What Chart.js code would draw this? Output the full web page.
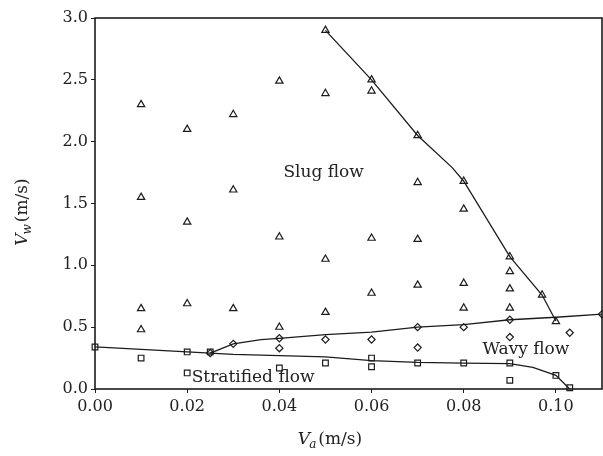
<!DOCTYPE html>
<html>
<head>
<meta charset="utf-8">
<title>Flow pattern map</title>
<script src="https://cdn.jsdelivr.net/npm/chart.js@4/dist/chart.umd.min.js"></script>
<style>
  html, body { margin: 0; padding: 0; background: #fff; }
</style>
</head>
<body>
<canvas id="flowMap" width="603" height="456"></canvas>
<script>
// superficial air velocity Va (m/s) and water velocity Vw (m/s) of each run

// slug flow runs (triangles)
var slugVa = [0.01, 0.01, 0.01, 0.01,
              0.02, 0.02, 0.02,
              0.03, 0.03, 0.03,
              0.04, 0.04, 0.04,
              0.05, 0.05, 0.05, 0.05,
              0.06, 0.06, 0.06, 0.06,
              0.07, 0.07, 0.07, 0.07,
              0.08, 0.08, 0.08, 0.08,
              0.09, 0.09, 0.09, 0.09,
              0.097, 0.10];
var slugVw = [2.30, 1.55, 0.65, 0.48,
              2.10, 1.35, 0.69,
              2.22, 1.61, 0.65,
              2.49, 1.23, 0.50,
              2.90, 2.39, 1.05, 0.62,
              2.50, 2.41, 1.22, 0.775,
              2.05, 1.67, 1.21, 0.84,
              1.68, 1.455, 0.855, 0.655,
              1.07, 0.95, 0.81, 0.655,
              0.76, 0.545];

// wavy flow runs (diamonds)
var wavyVa = [0.025, 0.03, 0.04, 0.04, 0.05, 0.06, 0.07, 0.07, 0.08, 0.09, 0.09, 0.103, 0.11];
var wavyVw = [0.29, 0.365, 0.41, 0.33, 0.40, 0.40, 0.50, 0.335, 0.50, 0.56, 0.42, 0.455, 0.605];

// stratified flow runs (squares)
var stratVa = [0.00, 0.01, 0.02, 0.02, 0.025, 0.04, 0.05, 0.06, 0.06, 0.07, 0.08, 0.09, 0.09, 0.10, 0.103];
var stratVw = [0.34, 0.25, 0.30, 0.13, 0.30, 0.17, 0.21, 0.25, 0.18, 0.21, 0.21, 0.21, 0.07, 0.11, 0.01];

// transition boundaries
var slugLimitVa = [0.05, 0.06, 0.07, 0.0775, 0.08, 0.09, 0.097, 0.10];
var slugLimitVw = [2.90, 2.50, 2.05, 1.79, 1.68, 1.07, 0.76, 0.55];

var slugWavyVa = [0.025, 0.03, 0.036, 0.04, 0.05, 0.06, 0.07, 0.08, 0.09, 0.10, 0.11];
var slugWavyVw = [0.29, 0.365, 0.40, 0.41, 0.44, 0.46, 0.50, 0.52, 0.56, 0.58, 0.605];

var wavyStratVa = [0.00, 0.01, 0.02, 0.025, 0.03, 0.04, 0.05, 0.06, 0.07, 0.08, 0.09, 0.095, 0.10, 0.103];
var wavyStratVw = [0.34, 0.32, 0.30, 0.29, 0.28, 0.27, 0.26, 0.23, 0.215, 0.21, 0.205, 0.175, 0.11, 0.0];

// axis ticks
var vaTicks = [0.00, 0.02, 0.04, 0.06, 0.08, 0.10];
var vwTicks = [0.0, 0.5, 1.0, 1.5, 2.0, 2.5, 3.0];

// regime names, placed in data units
var regimeNames = ['Slug flow', 'Wavy flow', 'Stratified flow'];
var regimeVa = [0.0496, 0.0935, 0.0343];
var regimeVw = [1.75, 0.316, 0.09];

var ink = '#1c1c1c';
var serif = '"DejaVu Serif", "Liberation Serif", serif';

function toPoints(xs, ys) {
    return xs.map(function (x, i) { return {x: x, y: ys[i]}; });
}

function boundary(xs, ys) {
    return {
        data: toPoints(xs, ys),
        showLine: true,
        borderColor: ink,
        borderWidth: 1.3,
        pointRadius: 0,
        tension: 0
    };
}

function markers(xs, ys, style, r) {
    return {
        data: toPoints(xs, ys),
        pointStyle: style,
        pointRadius: r,
        pointBorderWidth: 1.2,
        pointBorderColor: ink,
        pointBackgroundColor: 'rgba(255,255,255,0)',
        clip: false
    };
}

// frame, regime names and axis titles with subscripts
var decorations = {
    id: 'decorations',
    afterDraw: function (chart) {
        var ctx = chart.ctx, a = chart.chartArea;
        var xs = chart.scales.x, ys = chart.scales.y;
        ctx.save();
        ctx.strokeStyle = ink;
        ctx.lineWidth = 1.6;
        ctx.strokeRect(a.left, a.top, a.right - a.left, a.bottom - a.top);

        ctx.fillStyle = '#222';
        ctx.font = '17px ' + serif;
        ctx.textAlign = 'center';
        ctx.textBaseline = 'middle';
        regimeNames.forEach(function (name, i) {
            ctx.fillText(name, xs.getPixelForValue(regimeVa[i]), ys.getPixelForValue(regimeVw[i]));
        });

        drawTitle(ctx, 'a', 330, 438, 0);
        drawTitle(ctx, 'w', 21, 212, -Math.PI / 2);
        ctx.restore();
    }
};

function drawTitle(ctx, sub, cx, cy, angle) {
    var big = '17px ' + serif, ital = 'italic 17px ' + serif, small = 'italic 12px ' + serif;
    ctx.save();
    ctx.translate(cx, cy);
    ctx.rotate(angle);
    ctx.textAlign = 'left';
    ctx.textBaseline = 'alphabetic';
    ctx.font = ital;  var wV = ctx.measureText('V').width;
    ctx.font = small; var wS = ctx.measureText(sub).width;
    ctx.font = big;   var wU = ctx.measureText('(m/s)').width;
    var x = -(wV + wS + 1 + wU) / 2, base = 6;
    ctx.font = ital;  ctx.fillText('V', x, base);
    ctx.font = small; ctx.fillText(sub, x + wV - 1, base + 4);
    ctx.font = big;   ctx.fillText('(m/s)', x + wV + wS + 1, base);
    ctx.restore();
}

new Chart(document.getElementById('flowMap'), {
    type: 'scatter',
    data: {
        datasets: [
            boundary(slugLimitVa, slugLimitVw),
            boundary(slugWavyVa, slugWavyVw),
            boundary(wavyStratVa, wavyStratVw),
            markers(slugVa, slugVw, 'triangle', 4.2),
            markers(wavyVa, wavyVw, 'rectRot', 3.6),
            markers(stratVa, stratVw, 'rect', 4)
        ]
    },
    options: {
        responsive: false,
        animation: false,
        layout: {autoPadding: false, padding: {top: 18, right: 1, left: 0, bottom: 0}},
        plugins: {legend: {display: false}, tooltip: {enabled: false}},
        scales: {
            x: {
                type: 'linear',
                min: 0,
                max: 0.11,
                afterBuildTicks: function (axis) {
                    axis.ticks = vaTicks.map(function (v) { return {value: v}; });
                },
                afterFit: function (axis) {
                    axis.height = 67;
                    axis.paddingLeft = 0;
                    axis.paddingRight = 0;
                },
                grid: {drawOnChartArea: false, drawTicks: true, tickLength: 4, color: ink},
                border: {display: false},
                ticks: {
                    color: '#222',
                    padding: 4,
                    maxRotation: 0,
                    font: {family: serif, size: 16},
                    callback: function (v) { return Number(v).toFixed(2); }
                }
            },
            y: {
                type: 'linear',
                min: 0,
                max: 3.0,
                afterBuildTicks: function (axis) {
                    axis.ticks = vwTicks.map(function (v) { return {value: v}; });
                },
                afterFit: function (axis) {
                    axis.width = 95;
                    axis.paddingTop = 0;
                    axis.paddingBottom = 0;
                },
                grid: {drawOnChartArea: false, drawTicks: true, tickLength: 4, color: ink},
                border: {display: false},
                ticks: {
                    color: '#222',
                    padding: 3,
                    font: {family: serif, size: 16},
                    callback: function (v) { return Number(v).toFixed(1); }
                }
            }
        }
    },
    plugins: [decorations]
});
</script>
</body>
</html>
